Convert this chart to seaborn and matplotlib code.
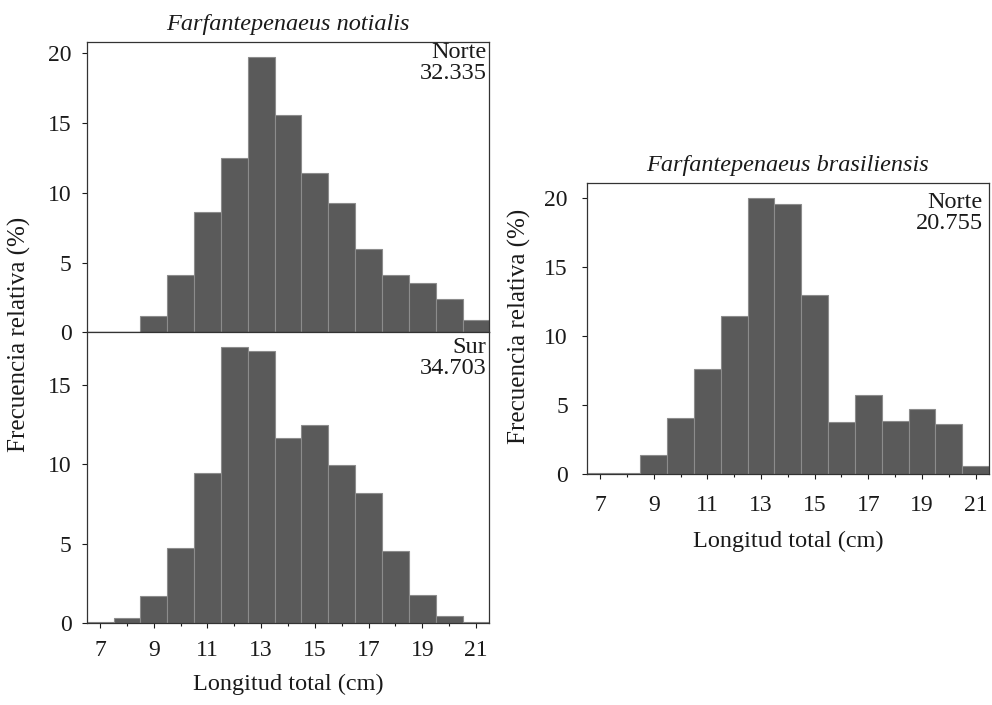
import numpy as np
import pandas as pd
import matplotlib
matplotlib.use("Agg")
import matplotlib.pyplot as plt
import seaborn as sns
from matplotlib.ticker import MultipleLocator

sns.set_theme(style="ticks")
plt.rcParams['font.family'] = ['Liberation Serif', 'DejaVu Serif']

# ---- data ----
lengths = [7, 8, 9, 10, 11, 12, 13, 14, 15, 16, 17, 18, 19, 20, 21]
notialis_norte = [0.05, 0.05, 1.17, 4.1, 8.6, 12.5, 19.75, 15.6, 11.4, 9.27, 5.95, 4.13, 3.5, 2.4, 0.86]
notialis_sur = [0.08, 0.35, 1.74, 4.71, 9.44, 17.35, 17.12, 11.63, 12.49, 9.94, 8.2, 4.56, 1.8, 0.44, 0.05]
brasil_norte = [0.05, 0.05, 1.37, 4.08, 7.57, 11.41, 19.95, 19.56, 12.93, 3.79, 5.69, 3.84, 4.73, 3.62, 0.58]
xticks = [7, 9, 11, 13, 15, 17, 19, 21]
title_left = "Farfantepenaeus notialis"
title_right = "Farfantepenaeus brasiliensis"
ann_nn = "Norte\n32.335"
ann_ns = "Sur\n34.703"
ann_bn = "Norte\n20.755"
ylabel = "Frecuencia relativa (%)"
xlabel = "Longitud total (cm)"

BAR = "#5a5a5a"
EDGE = "#8c8c8c"
TXT = "#1a1a1a"
FS_TICK = 17
FS_LAB = 17.5
FS_TITLE = 17.5
FS_ANN = 17.5

W, H = 992, 705
fig = plt.figure(figsize=(9.92, 7.05), dpi=100)
ax1 = fig.add_axes([0.0874, 0.5286, 0.4059, 0.4118])
ax2 = fig.add_axes([0.0874, 0.1159, 0.4059, 0.4127])
ax3 = fig.add_axes([0.5914, 0.3277, 0.4056, 0.4123])


def draw(ax, vals, ytop, yticks, ann, show_x, ypad, xpad, ann_dx, ann_dy):
    df = pd.DataFrame({"len": lengths, "pct": vals})
    sns.histplot(data=df, x="len", weights="pct", discrete=True, ax=ax,
                 color=BAR, edgecolor=EDGE, linewidth=0.8, alpha=1)
    ax.set_xlim(6.5, 21.5)
    ax.set_ylim(0, ytop)
    ax.set_yticks(yticks)
    ax.set_xticks(xticks)
    ax.xaxis.set_minor_locator(MultipleLocator(1))
    ax.set_xlabel("")
    ax.set_ylabel("")
    ax.tick_params(axis='both', which='major', labelsize=FS_TICK, length=3.5,
                   width=0.8, colors=TXT)
    ax.tick_params(axis='y', which='major', pad=ypad)
    ax.tick_params(axis='x', which='major', pad=xpad)
    ax.tick_params(axis='x', which='minor', length=2.5, width=0.8, colors=TXT)
    if not show_x:
        ax.tick_params(axis='x', which='both', labelbottom=False, length=0)
    for s in ax.spines.values():
        s.set_color("#333333")
        s.set_linewidth(0.9)
    bb = ax.get_position()
    x = 1 - ann_dx / (bb.width * W)
    y = 1 - ann_dy / (bb.height * H)
    ax.text(x, y, ann, transform=ax.transAxes, ha='right', va='top',
            fontsize=FS_ANN, color=TXT, linespacing=1.0)

draw(ax1, notialis_norte, 20.8, [0, 5, 10, 15, 20], ann_nn, False, 7.5, 8.5, 3, 0)
draw(ax2, notialis_sur, 18.3, [0, 5, 10, 15], ann_ns, True, 7.5, 8.5, 3, 5)
draw(ax3, brasil_norte, 21.03, [0, 5, 10, 15, 20], ann_bn, True, 10, 11.5, 6, 9)

ax1.set_title(title_left, fontsize=FS_TITLE, style='italic', color=TXT, pad=9)
ax3.set_title(title_right, fontsize=FS_TITLE, style='italic', color=TXT, pad=9)

ax2.set_xlabel(xlabel, fontsize=FS_LAB, color=TXT, labelpad=9)
ax3.set_xlabel(xlabel, fontsize=FS_LAB, color=TXT, labelpad=11)
fig.text(0.02, 1 - 334 / H, ylabel, rotation=90, ha='center', va='center',
         fontsize=18, color=TXT)
fig.text(519 / W, 1 - 326 / H, ylabel, rotation=90, ha='center', va='center',
         fontsize=18, color=TXT)

fig.savefig("out.png", dpi=100, facecolor="white")
